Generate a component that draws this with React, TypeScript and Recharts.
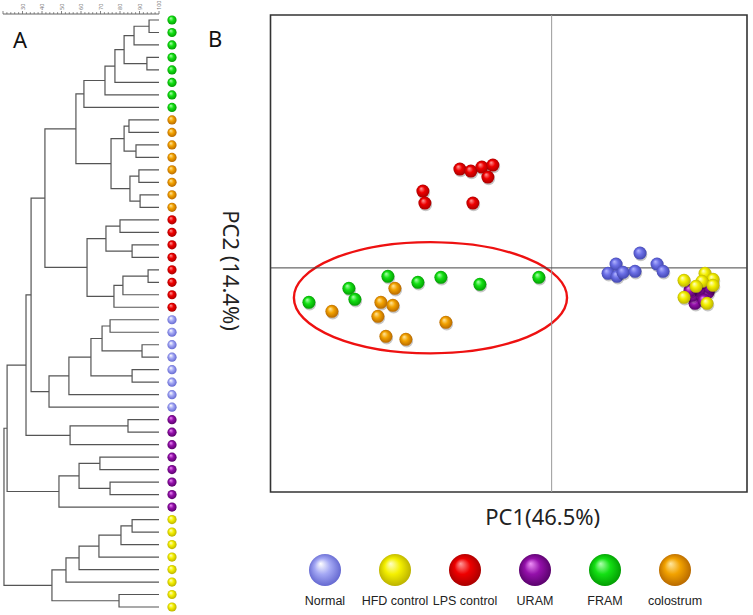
import React from "react";
import { ScatterChart, Scatter, XAxis, YAxis, ReferenceLine, ReferenceArea, Legend, Label } from "recharts";

// groups + sphere shading
const GROUPS = ["Normal", "HFD control", "LPS control", "URAM", "FRAM", "colostrum"];
const GROUP_IDS = ["normal", "hfd", "lps", "uram", "fram", "colo"];
const SPHERE_LIGHT = ["#ffffff", "#ffffc8", "#ff9a9a", "#ee90f8", "#b0ffb0", "#ffe7a0"];
const SPHERE_MID = ["#a4a8f4", "#f4f000", "#ee0000", "#9410aa", "#14e014", "#f2a200"];
const SPHERE_DARK = ["#5c60cc", "#b4aa00", "#a00000", "#520064", "#009400", "#b06200"];

// dendrogram (panel A): leaf order top -> bottom
const LEAF_GROUPS = [
  "fram", "fram", "fram", "fram", "fram", "fram", "fram", "fram",
  "colo", "colo", "colo", "colo", "colo", "colo", "colo", "colo",
  "lps", "lps", "lps", "lps", "lps", "lps", "lps", "lps",
  "normal", "normal", "normal", "normal", "normal", "normal", "normal", "normal",
  "uram", "uram", "uram", "uram", "uram", "uram", "uram", "uram",
  "hfd", "hfd", "hfd", "hfd", "hfd", "hfd", "hfd", "hfd",
];

// merges: [child a, child b, similarity]; L = leaf, M = earlier merge
const MERGES: [string, string, number][] = [
  ["L0", "L1", 94.9], ["M0", "L2", 87.2], ["L3", "L4", 93.8], ["M1", "M2", 82.1],
  ["M3", "L5", 77.4], ["M4", "L6", 72.3], ["M5", "L7", 61.5],
  ["L8", "L9", 84.6], ["L10", "L11", 88.2], ["M7", "M8", 82.1], ["L12", "L13", 89.7],
  ["L14", "L15", 90.3], ["M10", "M11", 85.1], ["M9", "M12", 75.4], ["M6", "M13", 57.4],
  ["L16", "L17", 80.0], ["L18", "L19", 86.2], ["M15", "M16", 72.8], ["L20", "L21", 94.4],
  ["M18", "L22", 81.5], ["M19", "L23", 76.9], ["M17", "M20", 63.1], ["M14", "M21", 41.5],
  ["L24", "L25", 74.9], ["L26", "L27", 91.3], ["M23", "M24", 70.8], ["L28", "L29", 86.2],
  ["M25", "M26", 65.1], ["M27", "L30", 53.8], ["M28", "L31", 43.6], ["M22", "M29", 34.4],
  ["L32", "L33", 84.1], ["M31", "L34", 54.4], ["M30", "M32", 31.8], ["L35", "L36", 69.7],
  ["L37", "L38", 74.9], ["M34", "M35", 59.0], ["M36", "L39", 48.7], ["M33", "M37", 22.1],
  ["L40", "L41", 86.2], ["M39", "L42", 80.5], ["M40", "L43", 69.2], ["M41", "L44", 59.0],
  ["M42", "L45", 52.3], ["L46", "L47", 79.5], ["M43", "M44", 45.1], ["M38", "M45", 20.5],
];

const RULER_TICKS = [
  20, 22, 24, 26, 28, 30, 32, 34, 36, 38, 40, 42, 44, 46, 48, 50, 52, 54, 56, 58, 60,
  62, 64, 66, 68, 70, 72, 74, 76, 78, 80, 82, 84, 86, 88, 90, 92, 94, 96, 98, 100,
];
const RULER_LABELS = [30, 40, 50, 60, 70, 80, 90, 100];

// PCA scores (panel B): [PC1, PC2]
const NORMAL = [[4.42, 0.74], [3.22, 0.19], [2.82, -0.27], [3.27, -0.42], [3.57, -0.22], [4.17, -0.17], [5.27, 0.19], [5.57, -0.17]];
const URAM = [[7.17, -1.77], [7.02, -1.37], [7.52, -1.37], [7.82, -1.22], [7.37, -1.07], [7.92, -0.97], [7.62, -1.62], [6.92, -1.12]];
const HFD = [[6.62, -0.62], [7.67, -0.27], [8.07, -0.57], [7.52, -0.67], [7.22, -0.92], [8.07, -0.87], [6.62, -1.47], [7.77, -1.77]];
const LPS = [[-4.59, 4.94], [-4.04, 4.84], [-3.49, 5.04], [-2.94, 5.14], [-3.19, 4.54], [-6.44, 3.84], [-6.34, 3.24], [-3.94, 3.24]];
const FRAM = [[-8.19, -0.42], [-5.54, -0.47], [-6.69, -0.72], [-3.59, -0.82], [-0.64, -0.47], [-10.14, -1.02], [-9.84, -1.57], [-12.14, -1.72]];
const COLOSTRUM = [[-7.84, -1.02], [-8.54, -1.72], [-7.94, -1.87], [-10.99, -2.17], [-8.69, -2.42], [-5.29, -2.72], [-8.29, -3.42], [-7.29, -3.57]];

const PC1_DOMAIN = [-14.06, 9.77];
const PC2_DOMAIN = [-11.2, 12.64];
const ELLIPSE_PC1 = [-12.89, 0.77];
const ELLIPSE_PC2 = [-4.27, 1.29];

const FONT = "'Noto Sans', 'Liberation Sans', Arial, sans-serif";

function buildLinks() {
  const pos: Record<string, { y: number; h: number }> = {};
  LEAF_GROUPS.forEach((_, i) => (pos["L" + i] = { y: i, h: 100 }));
  return MERGES.map(([a, b, h], i) => {
    const A = pos[a];
    const B = pos[b];
    pos["M" + i] = { y: (A.y + B.y) / 2, h };
    return [
      { x: A.h, y: A.y },
      { x: h, y: A.y },
      { x: h, y: B.y },
      { x: B.h, y: B.y },
    ];
  });
}

const LINKS = buildLinks();
const LEAF_TICKS = LEAF_GROUPS.map((_, i) => i);
const toPts = (arr: number[][]) => arr.map(([x, y]) => ({ x, y }));

const Gradients = () => (
  <svg width={0} height={0} style={{ position: "absolute" }}>
    <defs>
      {GROUP_IDS.map((id, i) => (
        <radialGradient key={id} id={`sph-${id}`} cx="50%" cy="50%" r="55%" fx="36%" fy="30%">
          <stop offset="0%" stopColor={SPHERE_LIGHT[i]} />
          <stop offset="45%" stopColor={SPHERE_MID[i]} />
          <stop offset="100%" stopColor={SPHERE_DARK[i]} />
        </radialGradient>
      ))}
      <radialGradient id="sph-normalpca" cx="50%" cy="50%" r="55%" fx="36%" fy="30%">
        <stop offset="0%" stopColor="#b4b6ff" />
        <stop offset="45%" stopColor="#6b6fe6" />
        <stop offset="100%" stopColor="#3e42aa" />
      </radialGradient>
    </defs>
  </svg>
);

const NoDot = () => <g />;

const makeSphere = (id: string) => (props: any) => {
  const { cx, cy } = props;
  return (
    <g>
      <circle cx={cx + 0.8} cy={cy + 1.6} r={6.5} fill="rgba(0,0,0,0.22)" />
      <circle cx={cx} cy={cy} r={6.5} fill={`url(#sph-${id})`} />
    </g>
  );
};

const RulerTick = (props: any) => {
  const { x, y, payload } = props;
  const v = payload.value;
  const major = v % 10 === 0;
  return (
    <g>
      <line x1={x} y1={y} x2={x} y2={y - (major ? 3 : 1.8)} stroke="#666" strokeWidth={0.8} />
      {major && RULER_LABELS.includes(v) && (
        <text x={x} y={y - 4} transform={`rotate(-90, ${x}, ${y - 4})`} fontSize={5.5}
          fill="#777" fontFamily={FONT} dominantBaseline="central">{v}</text>
      )}
    </g>
  );
};

const LeafTick = (props: any) => {
  const { x, y, payload } = props;
  const id = LEAF_GROUPS[payload.value];
  return <circle cx={x} cy={y} r={4.6} fill={`url(#sph-${id})`} />;
};

const EllipseShape = (props: any) => {
  const { x, y, width, height } = props;
  return (
    <ellipse cx={x + width / 2} cy={y + height / 2} rx={width / 2} ry={height / 2}
      fill="none" stroke="#ee1111" strokeWidth={2.4} />
  );
};

const LegendContent = () => (
  <div style={{ display: "flex", fontFamily: "'Liberation Sans', Arial, sans-serif" }}>
    {GROUPS.map((g, i) => (
      <div key={g} style={{ width: 70, display: "flex", flexDirection: "column", alignItems: "center" }}>
        <svg width={36} height={34}>
          <circle cx={18} cy={17} r={16} fill={`url(#sph-${GROUP_IDS[i]})`} />
        </svg>
        <div style={{ fontSize: 12.5, lineHeight: "15px", marginTop: 6.5, color: "#222", whiteSpace: "nowrap" }}>{g}</div>
      </div>
    ))}
  </div>
);

export default function App() {
  return (
    <div style={{ position: "fixed", left: 0, top: 0, width: 753, height: 615, background: "#fff", overflow: "hidden" }}>
      <Gradients />
      <div style={{ position: "absolute", left: 13, top: 25.5, fontSize: 22, lineHeight: "26px", fontFamily: FONT, color: "#111" }}>A</div>
      <div style={{ position: "absolute", left: 208, top: 24.5, fontSize: 22, lineHeight: "26px", fontFamily: FONT, color: "#111" }}>B</div>

      <div style={{ position: "absolute", left: 0, top: 0 }}>
        <ScatterChart width={195} height={615} margin={{ top: 0, right: 0, bottom: 0, left: 3 }}>
          <XAxis type="number" dataKey="x" orientation="top" domain={[20, 100]} allowDataOverflow
            ticks={RULER_TICKS} interval={0} height={14} tickSize={0} tickMargin={0}
            tickLine={false} axisLine={{ stroke: "#555", strokeWidth: 0.9 }} tick={RulerTick} />
          <YAxis type="number" dataKey="y" orientation="right" domain={[-0.48, 47.64]} reversed allowDataOverflow
            ticks={LEAF_TICKS} interval={0} width={36} tickSize={0} tickMargin={13}
            axisLine={false} tickLine={false} tick={LeafTick} />
          {LINKS.map((pts, i) => (
            <Scatter key={i} data={pts} line={{ stroke: "#555", strokeWidth: 1.2 }}
              shape={NoDot} isAnimationActive={false} />
          ))}
        </ScatterChart>
      </div>

      <div style={{ position: "absolute", left: 195, top: 0 }}>
        <ScatterChart width={558} height={615} margin={{ top: 15, right: 6, bottom: 83, left: 25.5 }}>
          <XAxis type="number" dataKey="x" domain={PC1_DOMAIN} allowDataOverflow height={40}
            tick={false} tickLine={false} axisLine={false}>
            <Label content={(p: any) => {
              const vb = p.viewBox || {};
              return (
                <text x={vb.x + vb.width / 2 + 34} y={vb.y + 33} textAnchor="middle"
                  fontSize={22} fontFamily={FONT} fill="#222">PC1(46.5%)</text>
              );
            }} />
          </XAxis>
          <YAxis type="number" dataKey="y" domain={PC2_DOMAIN} allowDataOverflow width={50}
            tick={false} tickLine={false} axisLine={false}>
            <Label content={(p: any) => {
              const vb = p.viewBox || {};
              const x = vb.x + vb.width - 39;
              const y = vb.y + vb.height / 2 + 17;
              return (
                <text x={x} y={y} transform={`rotate(90, ${x}, ${y})`} textAnchor="middle"
                  dominantBaseline="central" fontSize={22} fontFamily={FONT} fill="#222">PC2 (14.4%)</text>
              );
            }} />
          </YAxis>
          <ReferenceArea x1={PC1_DOMAIN[0]} x2={PC1_DOMAIN[1]} y1={PC2_DOMAIN[0]} y2={PC2_DOMAIN[1]}
            fill="none" stroke="#333" strokeWidth={1.6} fillOpacity={0} />
          <ReferenceLine x={0} stroke="#999" strokeWidth={1} />
          <ReferenceLine y={0} stroke="#444" strokeWidth={1} />
          <ReferenceArea x1={ELLIPSE_PC1[0]} x2={ELLIPSE_PC1[1]} y1={ELLIPSE_PC2[0]} y2={ELLIPSE_PC2[1]}
            shape={EllipseShape} />
          <Scatter data={toPts(LPS)} shape={makeSphere("lps")} isAnimationActive={false} />
          <Scatter data={toPts(FRAM)} shape={makeSphere("fram")} isAnimationActive={false} />
          <Scatter data={toPts(COLOSTRUM)} shape={makeSphere("colo")} isAnimationActive={false} />
          <Scatter data={toPts(NORMAL)} shape={makeSphere("normalpca")} isAnimationActive={false} />
          <Scatter data={toPts(URAM)} shape={makeSphere("uram")} isAnimationActive={false} />
          <Scatter data={toPts(HFD)} shape={makeSphere("hfd")} isAnimationActive={false} />
          <Legend layout="horizontal" verticalAlign="middle" align="center"
            wrapperStyle={{ left: 95, top: 553, width: 420 }} content={LegendContent} />
        </ScatterChart>
      </div>
    </div>
  );
}
